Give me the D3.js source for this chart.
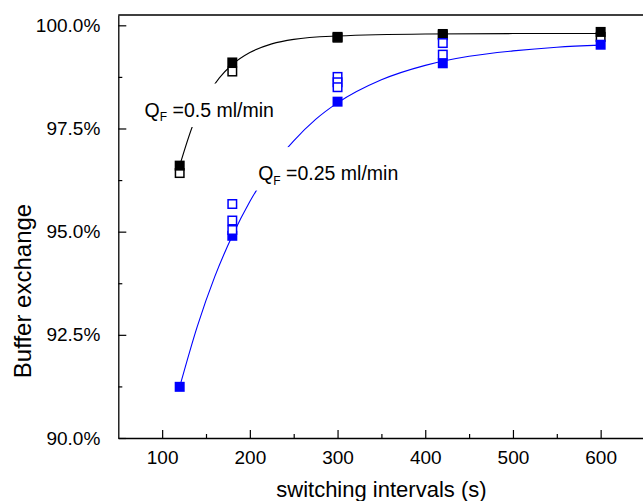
<!DOCTYPE html>
<html>
<head>
<meta charset="utf-8">
<script src="https://cdn.jsdelivr.net/npm/d3@7"></script>
<style>
  body { margin: 0; background: #fff; }
  svg { display: block; font-family: "Liberation Sans", Arial, sans-serif; }
</style>
</head>
<body>
<div id="chart"></div>
<script>
// measured points (switching interval in s, buffer exchange in %)
const blackFilledX = [120, 180, 300, 420, 600];
const blackFilledY = [96.60, 99.10, 99.72, 99.79, 99.84];
const blackOpenX = [120, 180, 300, 420, 600];
const blackOpenY = [96.42, 98.88, 99.70, 99.76, 99.72];

const blueFilledX = [120, 180, 300, 420, 600];
const blueFilledY = [91.24, 94.90, 98.15, 99.08, 99.53];
const blueOpenX = [180, 180, 180, 300, 300, 300, 420, 420];
const blueOpenY = [95.67, 95.27, 95.04, 98.75, 98.62, 98.50, 99.57, 99.29];

// fitted curves
const blackFitX = [120, 135, 150, 165, 180, 200, 225, 250, 300, 400, 500, 600];
const blackFitY = [96.60, 97.58, 98.25, 98.72, 99.05, 99.34, 99.55, 99.66, 99.74, 99.79, 99.80, 99.80];
const blueFitX = [120, 140, 160, 180, 200, 225, 250, 275, 300, 350, 400, 450, 500, 550, 600];
const blueFitY = [91.24, 92.70, 93.91, 94.90, 95.73, 96.56, 97.20, 97.72, 98.12, 98.68, 99.03, 99.25, 99.38, 99.47, 99.52];

const xTicks = [100, 200, 300, 400, 500, 600];
const xMinor = [150, 250, 350, 450, 550];
const yTicks = [90, 92.5, 95, 97.5, 100];
const yMinor = [91.25, 93.75, 96.25, 98.75];

const labels = [
    { x: 80, y: 97.79, sub: "F", text: " =0.5 ml/min" },
    { x: 209.5, y: 96.25, sub: "F", text: " =0.25 ml/min" }
];

const W = 643, H = 501;
const margin = { left: 118.3, right: 644.5, top: 15, bottom: 438 };

const svg = d3.select("#chart").append("svg")
    .attr("width", W)
    .attr("height", H);

const x = d3.scaleLinear().domain([50, 650]).range([margin.left, margin.right]);
const y = d3.scaleLinear().domain([90, 100.25]).range([margin.bottom, margin.top]);

const zip = (xs, ys) => xs.map((v, i) => ({ x: v, y: ys[i] }));

// frame (top and right)
svg.append("path")
    .attr("d", `M${margin.left},${margin.top}H${margin.right}V${margin.bottom}`)
    .attr("fill", "none")
    .attr("stroke", "#000")
    .attr("stroke-width", 1.3);

// axes
svg.append("g")
    .attr("transform", `translate(0,${margin.bottom})`)
    .call(d3.axisBottom(x).tickValues(xTicks).tickSizeInner(-8).tickSizeOuter(0).tickPadding(13));
svg.append("g")
    .attr("transform", `translate(0,${margin.bottom})`)
    .call(d3.axisBottom(x).tickValues(xMinor).tickSizeInner(-4).tickSizeOuter(0).tickFormat(""))
    .call(g => g.select(".domain").remove());

svg.append("g")
    .attr("transform", `translate(${margin.left},0)`)
    .call(d3.axisLeft(y).tickValues(yTicks).tickSizeInner(-8).tickSizeOuter(0).tickPadding(18)
        .tickFormat(d => d.toFixed(1) + "%"));
svg.append("g")
    .attr("transform", `translate(${margin.left},0)`)
    .call(d3.axisLeft(y).tickValues(yMinor).tickSizeInner(-4).tickSizeOuter(0).tickFormat(""))
    .call(g => g.select(".domain").remove());

svg.selectAll(".domain").attr("stroke-width", 1.3);
svg.selectAll(".tick line").attr("stroke-width", 1.2);
svg.selectAll(".tick text")
    .attr("font-family", "Liberation Sans, Arial, sans-serif")
    .attr("font-size", 19)
    .attr("fill", "#000");

// axis titles
svg.append("text")
    .attr("x", (margin.left + margin.right) / 2)
    .attr("y", 497)
    .attr("text-anchor", "middle")
    .attr("font-size", 22)
    .text("switching intervals (s)");

svg.append("text")
    .attr("transform", "translate(31,291) rotate(-90)")
    .attr("text-anchor", "middle")
    .attr("font-size", 24)
    .text("Buffer exchange");

// fitted curves
const line = d3.line()
    .x(d => x(d.x))
    .y(d => y(d.y))
    .curve(d3.curveMonotoneX);

svg.append("path")
    .datum(zip(blackFitX, blackFitY))
    .attr("d", line)
    .attr("fill", "none")
    .attr("stroke", "#000")
    .attr("stroke-width", 1.1);

svg.append("path")
    .datum(zip(blueFitX, blueFitY))
    .attr("d", line)
    .attr("fill", "none")
    .attr("stroke", "#0000ff")
    .attr("stroke-width", 1.1);

// markers
function squares(data, color, open) {
    const s = open ? 8.5 : 10;
    svg.append("g")
        .selectAll("rect")
        .data(data)
        .enter()
        .append("rect")
        .attr("x", d => x(d.x) - s / 2)
        .attr("y", d => y(d.y) - s / 2)
        .attr("width", s)
        .attr("height", s)
        .attr("fill", open ? "#fff" : color)
        .attr("stroke", open ? color : "none")
        .attr("stroke-width", open ? 1.5 : 0);
}

squares(zip(blackOpenX, blackOpenY), "#000", true);
squares(zip(blackFilledX, blackFilledY), "#000", false);
squares(zip(blueFilledX, blueFilledY), "#0000ff", false);
squares(zip(blueOpenX, blueOpenY), "#0000ff", true);

// labels with white box
labels.forEach(l => {
    const g = svg.append("g");
    const rect = g.append("rect").attr("fill", "#fff");
    const t = g.append("text")
        .attr("x", x(l.x))
        .attr("y", y(l.y))
        .attr("font-size", 19.5)
        .attr("fill", "#000");
    t.append("tspan").text("Q");
    t.append("tspan").attr("dy", 4.5).attr("font-size", 12).text(l.sub);
    t.append("tspan").attr("dy", -4.5).text(l.text);
    const b = t.node().getBBox();
    rect.attr("x", b.x - 3)
        .attr("y", y(l.y) - 33)
        .attr("width", b.width + 6)
        .attr("height", 43.5);
});
</script>
</body>
</html>
